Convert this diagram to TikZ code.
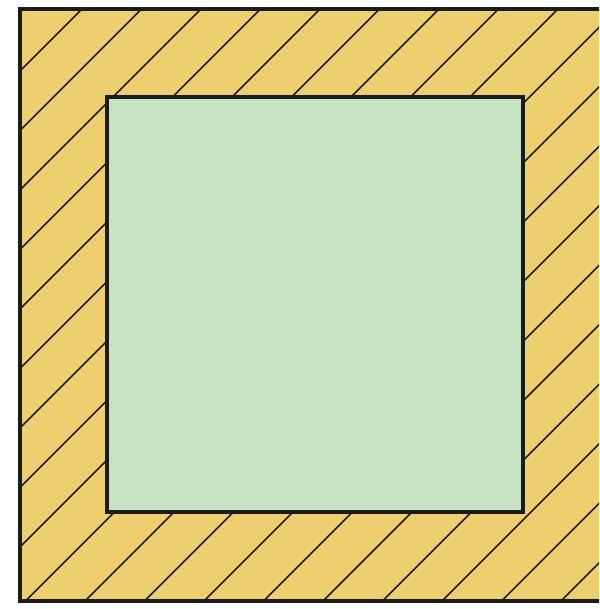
\documentclass[tikz,border=0pt]{standalone}
\definecolor{sand}{HTML}{EDCF70}
\definecolor{mint}{HTML}{C8E2C4}
\definecolor{ink}{HTML}{1C1C1C}
\begin{document}
\begin{tikzpicture}[x=1pt,y=-1pt,
  hatch/.style={line width=1.7pt, draw=ink},
  frame/.style={line width=4pt, draw=ink, line join=miter}]
\useasboundingbox (0,0) rectangle (599,609);
\clip (0,0) rectangle (599,609);
\fill[sand] (19.5,9) rectangle (640,600.5);
\begin{scope}
  \clip (19.5,9) rectangle (640,600.5);
  \foreach \k in {0,...,19}{
    \pgfmathsetmacro\c{91+59.5*\k}
    \draw[hatch] (\c,0) -- (\c-620,620);
  }
\end{scope}
\draw[frame, fill=mint] (107,97) rectangle (523,512);
\draw[frame] (19.5,9) rectangle (640,600.5);
\end{tikzpicture}
\end{document}
